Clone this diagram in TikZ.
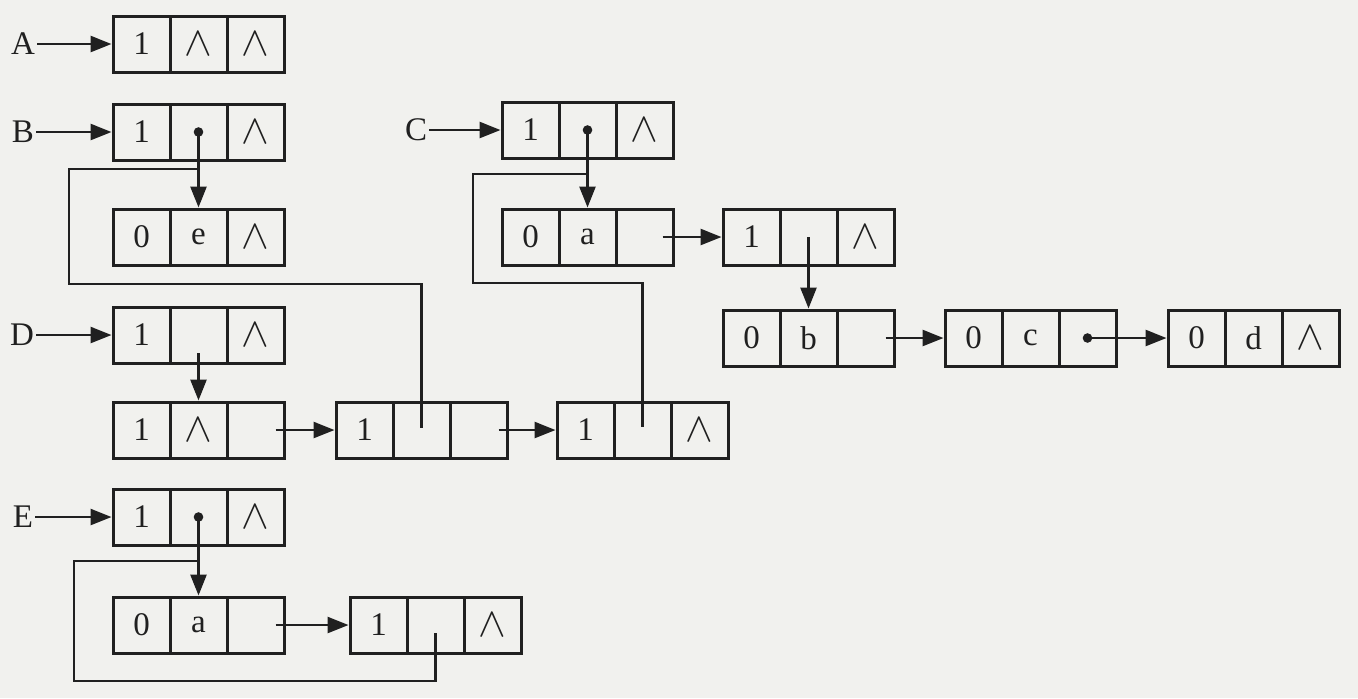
\documentclass[tikz,border=0pt]{standalone}
\usepackage{fontspec}
\setmainfont{Liberation Serif}
\usetikzlibrary{arrows.meta,calc}
\definecolor{bg}{RGB}{241,241,238}
\definecolor{ink}{RGB}{32,32,32}
\newcommand\nl{\scalebox{1.2}{$\wedge$}}
\newcommand\myrec[6]{%
  \node[cell] (#1-1) at (#2+28.5,#3+28) {#4};
  \node[cell] (#1-2) at (#2+85.5,#3+28) {#5};
  \node[cell] (#1-3) at (#2+142.5,#3+28) {#6};}
\begin{document}
\begin{tikzpicture}[x=0.5pt,y=-0.5pt,
  cell/.style={draw=ink, line width=1.5pt, minimum width=28.5pt, minimum height=28pt,
    inner sep=0pt, font=\fontsize{16.5}{18}\selectfont, text=ink},
  lab/.style={font=\fontsize{16.5}{18}\selectfont, text=ink, inner sep=1pt},
  arr/.style={draw=ink, line width=1.3pt, -{Triangle[length=10.5pt,width=8pt]}},
  link/.style={draw=ink, line width=1.3pt},
  ptr/.style={fill=ink}]
\fill[bg] (0,0) rectangle (1358,698);
\useasboundingbox (0,0) rectangle (1358,698);

% records
\myrec{A}{113}{16}{1}{\nl}{\nl}
\myrec{B}{113}{104}{1}{}{\nl}
\myrec{Be}{113}{209}{0}{e}{\nl}
\myrec{C}{502}{102}{1}{}{\nl}
\myrec{Ca}{502}{209}{0}{a}{}
\myrec{Cl}{723}{209}{1}{}{\nl}
\myrec{Cb}{723}{310}{0}{b}{}
\myrec{Cc}{945}{310}{0}{c}{}
\myrec{Cd}{1168}{310}{0}{d}{\nl}
\myrec{D}{113}{307}{1}{}{\nl}
\myrec{Da}{113}{402}{1}{\nl}{}
\myrec{Db}{336}{402}{1}{}{}
\myrec{Dc}{557}{402}{1}{}{\nl}
\myrec{E}{113}{489}{1}{}{\nl}
\myrec{Ea}{113}{597}{0}{a}{}
\myrec{Eb}{350}{597}{1}{}{\nl}

% head labels
\node[lab] (LA) at (23,44) {A};
\node[lab] (LB) at (23,132) {B};
\node[lab] (LC) at (416,130) {C};
\node[lab] (LD) at (22,335) {D};
\node[lab] (LE) at (23,517) {E};
\draw[arr] (LA.east) -- (A-1.west);
\draw[arr] (LB.east) -- (B-1.west);
\draw[arr] (LC.east) -- (C-1.west);
\draw[arr] (LD.east) -- (D-1.west);
\draw[arr] (LE.east) -- (E-1.west);

% B
\draw[arr] (B-2.center) -- (Be-2.north);
\draw[link] (B-2.center |- 0,169) -- (69,169) |- (Db-2.center |- 0,284) -- ([yshift=1pt]Db-2.center);

% C
\draw[arr] (C-2.center) -- (Ca-2.north);
\draw[link] (C-2.center |- 0,174) -- (473,174) |- (Dc-2.center |- 0,283) -- ([yshift=1.5pt]Dc-2.center);
\draw[arr] ([xshift=9pt]Ca-3.center) -- (Cl-1.west);
\draw[arr] (Cl-2.center) -- (Cb-2.north);
\draw[arr] ([xshift=10pt]Cb-3.center) -- (Cc-1.west);
\draw[arr] (Cc-3.center) -- (Cd-1.west);

% D
\draw[arr] ([yshift=-9pt]D-2.center) -- (Da-2.north);
\draw[arr] ([xshift=10pt]Da-3.center) -- (Db-1.west);
\draw[arr] ([xshift=10pt]Db-3.center) -- (Dc-1.west);

% E
\draw[arr] (E-2.center) -- (Ea-2.north);
\draw[link] (E-2.center |- 0,561) -- (74,561) |- (Eb-2.center |- 0,681) -- ([yshift=-4pt]Eb-2.center);
\draw[arr] ([xshift=10pt]Ea-3.center) -- (Eb-1.west);

% pointer dots
\fill[ptr] (B-2.center) circle[radius=2.4pt];
\fill[ptr] (C-2.center) circle[radius=2.4pt];
\fill[ptr] (Cc-3.center) circle[radius=2.4pt];
\fill[ptr] (E-2.center) circle[radius=2.4pt];
\end{tikzpicture}
\end{document}
